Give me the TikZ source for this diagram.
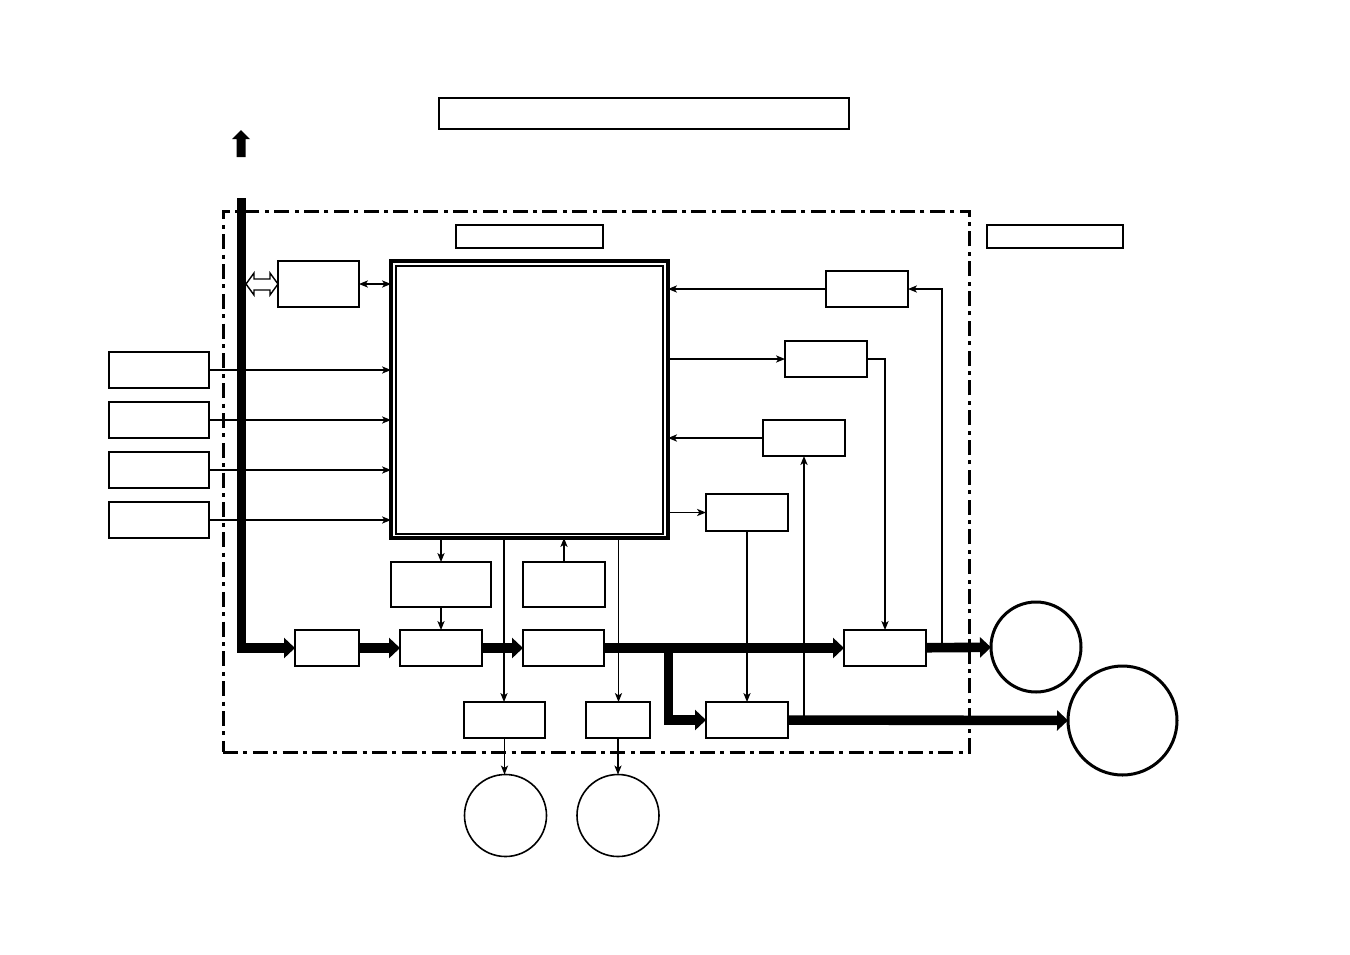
\documentclass[tikz,border=0pt]{standalone}
\usetikzlibrary{arrows.meta,fit}
\begin{document}
\begin{tikzpicture}[x=0.5pt,y=-0.5pt,
 box/.style={draw,line width=1pt,inner sep=0pt,outer sep=0pt},
 conn/.style={line width=0.6pt,-{Stealth[length=4.5pt,width=3.6pt,inset=1.2pt]}},
 dconn/.style={line width=0.6pt,{Stealth[length=4.5pt,width=3.6pt,inset=1.2pt]}-{Stealth[length=4.5pt,width=3.6pt,inset=1.2pt]}},
 bus/.style={line width=4.8pt,line join=miter,-{Triangle[length=5.5pt,width=10pt]}},
 dashframe/.style={draw,line width=1.5pt,inner sep=0pt,outer sep=0pt,dash pattern=on 7.5pt off 2.7pt on 2pt off 2.7pt},
 circ/.style={draw,circle,inner sep=0pt,outer sep=0pt}]

\useasboundingbox (0,0) rectangle (1350,954);

% frame and labels
\node[dashframe,fit={(223,211) (969,752)}] (frame) {};
\node[box,fit={(439,98) (849,129)}] (title) {};
\node[box,fit={(456,225) (603,248)}] (lab1) {};
\node[box,fit={(987,225) (1123,248)}] (lab2) {};

% CPU
\node[box,line width=1.6pt,fit={(391,261) (668,538)}] (CPU) {};
\node[draw,line width=0.6pt,inner sep=0pt,outer sep=0pt,fit={(396,266) (663,534)}] (CPUin) {};

% boxes
\node[box,fit={(278,261) (359,307)}] (A) {};
\node[box,fit={(109,352) (209,388)}] (L1) {};
\node[box,fit={(109,402) (209,438)}] (L2in) {};
\node[box,fit={(109,452) (209,488)}] (L3) {};
\node[box,fit={(109,502) (209,538)}] (L4) {};
\node[box,fit={(826,271) (908,307)}] (R1) {};
\node[box,fit={(785,341) (867,377)}] (R2) {};
\node[box,fit={(763,420) (845,456)}] (R3) {};
\node[box,fit={(706,494) (788,531)}] (R4) {};
\node[box,fit={(391,562) (491,607)}] (B1) {};
\node[box,fit={(523,562) (605,607)}] (B2) {};
\node[box,fit={(295,630) (359,666)}] (M1) {};
\node[box,fit={(400,630) (482,666)}] (M2) {};
\node[box,fit={(523,630) (604,666)}] (M3) {};
\node[box,fit={(844,630) (926,666)}] (O1) {};
\node[box,fit={(706,702) (788,738)}] (LB) {};
\node[box,fit={(464,702) (545,738)}] (D1) {};
\node[box,fit={(586,702) (650,738)}] (D2) {};

% circles
\node[circ,line width=1.5pt,minimum size=45pt] (C1) at (1036,647) {};
\node[circ,line width=1.5pt,minimum size=54.5pt] (C2) at (1122.5,720.5) {};
\node[circ,line width=0.8pt,minimum size=41pt] (C3) at (505.5,815.5) {};
\node[circ,line width=0.8pt,minimum size=41pt] (C4) at (618,815.5) {};

% top arrow
\fill (236.5,157) -- (236.5,139) -- (232,139) -- (241,130) -- (250,139) -- (245.5,139) -- (245.5,157) -- cycle;

% bus
\coordinate (bustop) at (241.5,198);
\draw[bus] (bustop) |- (M1.west);
\draw[bus] (M1) -- (M2);
\draw[bus] (M2) -- (M3);
\draw[bus] (M3) -- (O1);
\coordinate (br) at (668.5,647);
\draw[bus] (br) |- (LB.west);
\draw[bus] (O1) -- (C1);
\draw[bus] (LB) -- (C2);

% hollow double arrow bus <-> A
\draw[line width=0.7pt,fill=white,line join=miter]
 (246,284) -- (254,273) -- (254,279) -- (270,279) -- (270,273) -- (A.west) -- (270,295) -- (270,290) -- (254,290) -- (254,295) -- cycle;

% thin connectors
\draw[dconn] (A) -- (A -| CPU.west);
\draw[conn] (L1) -- (L1 -| CPU.west);
\draw[conn] (L2in) -- (L2in -| CPU.west);
\draw[conn] (L3) -- (L3 -| CPU.west);
\draw[conn] (L4) -- (L4 -| CPU.west);

\draw[conn] (R1) -- (R1 -| CPU.east);
\draw[conn] (R2 -| CPU.east) -- (R2);
\draw[conn,line width=1pt] (R3) -- (R3 -| CPU.east);
\draw[conn] (R4 -| CPU.east) -- (R4);

\draw[conn] (R2.east) -| (O1.north);
\coordinate (fb1) at (942,647);
\draw[conn] (fb1) |- (R1.east);
\coordinate (fb2) at (804,720);
\draw[conn,line width=0.9pt] (fb2) -- (fb2 |- R3.south);
\draw[conn] (R4.south) -- (R4.south |- LB.north);

\draw[conn] (CPU.south -| B1) -- (B1);
\draw[conn] (B1) -- (B1 |- M2.north);
\draw[conn] (B2) -- (B2 |- CPU.south);
\coordinate (d1top) at (504,538);
\draw[conn] (d1top) -- (d1top |- D1.north);
\coordinate (d2top) at (618.5,538);
\draw[conn] (d2top) -- (d2top |- D2.north);
\draw[conn] (D1.south) -- (D1.south |- C3.north);
\draw[conn] (D2.south) -- (D2.south |- C4.north);
\end{tikzpicture}
\end{document}
